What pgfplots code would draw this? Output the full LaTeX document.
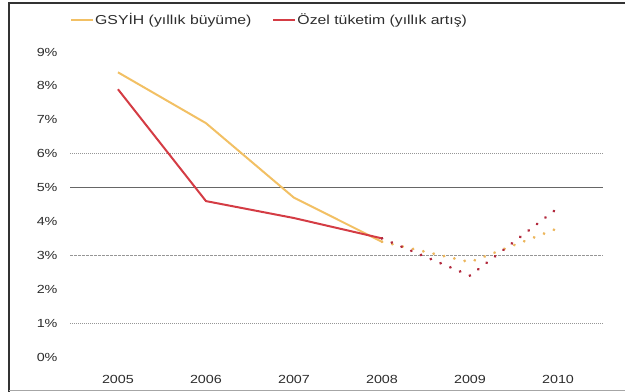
\documentclass[border=0pt]{standalone}
\usepackage{fontspec}
\setmainfont{Liberation Sans}[FakeStretch=1.22]
\usepackage{pgfplots}
\pgfplotsset{compat=1.18}

\definecolor{gdp}{RGB}{242,192,100}
\definecolor{gdpdot}{RGB}{236,182,92}
\definecolor{cons}{RGB}{212,60,68}
\definecolor{consdot}{RGB}{178,42,62}
\definecolor{gridc}{RGB}{150,150,150}
\definecolor{txt}{RGB}{45,45,45}

\begin{document}
\begin{tikzpicture}
\begin{axis}[
  scale only axis, width=535bp, height=305bp,
  xmin=2004.455, xmax=2010.534, ymin=0, ymax=9,
  axis line style={draw=none},
  major tick length=0pt,
  xtick={2005,2006,2007,2008,2009,2010},
  xticklabels={2005,2006,2007,2008,2009,2010},
  ytick={0,1,...,9},
  yticklabel={\pgfmathprintnumber{\tick}\%},
  /pgf/number format/assume math mode=true,
  tick label style={font=\fontsize{11.8}{14}\selectfont, text=txt},
  xticklabel style={yshift=-15bp},
  yticklabel style={xshift=-9bp},
  clip=false,
  legend style={at={(axis description cs:0,1.1049)}, anchor=west,
    draw=none, fill=none, inner sep=0pt, legend columns=2,
    nodes={inner sep=1bp},
    font=\fontsize{13}{15}\selectfont, text=txt,
    /tikz/every even column/.append style={column sep=20bp}},
  legend cell align=left,
  legend image code/.code={\draw[#1, line width=2bp] (0,0) -- (22bp,0);},
]
% page area and frame (top, left and bottom edges)
\path[use as bounding box]
  (axis description cs:-0.13084,-0.11475) rectangle (axis description cs:1.03738,1.17049);
\draw[line width=1.6bp, black!80]
  (axis description cs:1.03738,1.16066) -- (axis description cs:-0.11402,1.16066)
  -- (axis description cs:-0.11402,-0.11475);
\draw[line width=1bp, black!35]
  (axis description cs:-0.11402,-0.11148) -- (axis description cs:1.03738,-0.11148);

% horizontal guide lines
\draw[gridc, line width=0.8bp, dash pattern=on 1.2bp off 0.8bp] (axis description cs:0,0.6667) -- (axis description cs:0.996,0.6667);
\draw[black!60, line width=0.8bp] (axis description cs:0,0.5556) -- (axis description cs:0.996,0.5556);
\draw[gridc, line width=0.8bp, dash pattern=on 3bp off 1bp] (axis description cs:0,0.3333) -- (axis description cs:0.996,0.3333);
\draw[gridc, line width=0.8bp, dash pattern=on 1.2bp off 0.8bp] (axis description cs:0,0.1111) -- (axis description cs:0.996,0.1111);

% realised values
\addplot[gdp, line width=2bp, line join=round] coordinates {
  (2005,8.4) (2006,6.9) (2007,4.7) (2008,3.4)};
\addlegendentry{GSYİH (yıllık büyüme)}
\addplot[cons, line width=2bp, line join=round] coordinates {
  (2005,7.9) (2006,4.6) (2007,4.1) (2008,3.5)};
\addlegendentry{Özel tüketim (yıllık artış)}

% forecasts
\addplot[gdpdot, line width=3bp, line cap=round, dash pattern=on 0.1bp off 10.5bp, forget plot] coordinates {
  (2008,3.4) (2009,2.8) (2010,3.8)};
\addplot[consdot, line width=3bp, line cap=round, dash pattern=on 0.1bp off 10.5bp, forget plot] coordinates {
  (2008,3.5) (2009,2.4) (2010,4.4)};
\end{axis}
\end{tikzpicture}
\end{document}
